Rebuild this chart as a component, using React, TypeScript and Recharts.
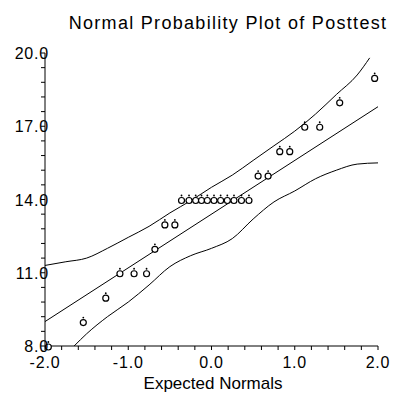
import { ComposedChart, Line, Scatter, XAxis, YAxis } from 'recharts';

// expected normal scores and posttest values
const expectedNormals = [
  -1.96, -1.54, -1.27, -1.1, -0.93, -0.78, -0.68, -0.56, -0.44,
  -0.36, -0.27, -0.19, -0.12, -0.05, 0.03, 0.11, 0.19, 0.27, 0.36, 0.45,
  0.56, 0.68, 0.82, 0.94, 1.12, 1.3, 1.54, 1.96,
];
const posttest = [
  8, 9, 10, 11, 11, 11, 12, 13, 13,
  14, 14, 14, 14, 14, 14, 14, 14, 14, 14, 14,
  15, 15, 16, 16, 17, 17, 18, 19,
];

const fitX = [-2, 2];
const fitY = [9.0, 17.8];

const upperX = [-2, -1.75, -1.5, -1.25, -1, -0.75, -0.5, -0.25, 0, 0.25, 0.5, 0.75, 1, 1.25, 1.5, 1.75, 1.9];
const upperY = [11.3, 11.45, 11.6, 12.0, 12.45, 12.9, 13.45, 13.95, 14.5, 15.0, 15.6, 16.2, 16.8, 17.5, 18.3, 19.1, 19.8];

const lowerX = [-1.65, -1.5, -1.25, -1, -0.75, -0.5, -0.25, 0, 0.25, 0.5, 0.75, 1, 1.25, 1.5, 1.75, 2];
const lowerY = [8.0, 8.5, 9.2, 9.8, 10.5, 11.25, 11.7, 12.0, 12.4, 13.2, 13.9, 14.35, 14.85, 15.2, 15.45, 15.5];

const xTicks = [-2, -1.8, -1.6, -1.4, -1.2, -1, -0.8, -0.6, -0.4, -0.2, 0, 0.2, 0.4, 0.6, 0.8, 1, 1.2, 1.4, 1.6, 1.8, 2];
const yTicks = [8, 8.6, 9.2, 9.8, 10.4, 11, 11.6, 12.2, 12.8, 13.4, 14, 14.6, 15.2, 15.8, 16.4, 17, 17.6, 18.2, 18.8, 19.4, 20];
const xLabels = [-2, -1, 0, 1, 2];
const yLabels = [8, 11, 14, 17, 20];

const points = expectedNormals.map((x, i) => ({ x, y: posttest[i] }));
const fit = fitX.map((x, i) => ({ x, y: fitY[i] }));
const upper = upperX.map((x, i) => ({ x, y: upperY[i] }));
const lower = lowerX.map((x, i) => ({ x, y: lowerY[i] }));

const font = 'Arial, "Liberation Sans", sans-serif';

const isLabel = (list: number[], v: number) => list.some((l) => Math.abs(l - v) < 1e-6);

const XTick = (props: any) => {
  const { x, y, payload } = props;
  if (!isLabel(xLabels, payload.value)) return null;
  return (
    <text x={x} y={y + 16} textAnchor="middle" fontFamily={font} fontSize={16} letterSpacing={0.8} fill="#000">
      {payload.value.toFixed(1)}
    </text>
  );
};

const YTick = (props: any) => {
  const { x, y, payload } = props;
  if (!isLabel(yLabels, payload.value)) return null;
  return (
    <text x={x + 10} y={y + 6} textAnchor="end" fontFamily={font} fontSize={16} letterSpacing={0.8} fill="#000">
      {payload.value.toFixed(1)}
    </text>
  );
};

const Marker = (props: any) => {
  const { cx, cy } = props;
  return (
    <g>
      <circle cx={cx} cy={cy + 1} r={3} fill="#fff" stroke="#000" strokeWidth={1.2} />
      <circle cx={cx} cy={cy - 4} r={0.9} fill="#000" />
    </g>
  );
};

export default function App() {
  return (
    <div style={{ position: 'absolute', left: 0, top: 0, width: 401, height: 393, background: '#fff' }}>
      <ComposedChart width={401} height={393} margin={{ top: 53, right: 23, bottom: 0, left: 0 }}>
        <XAxis
          type="number"
          dataKey="x"
          domain={[-2, 2]}
          ticks={xTicks}
          interval={0}
          height={47}
          axisLine={{ stroke: '#000' }}
          tickLine={{ stroke: '#000' }}
          tickSize={4}
          tick={<XTick />}
        />
        <YAxis
          type="number"
          dataKey="y"
          domain={[8, 20]}
          ticks={yTicks}
          interval={0}
          width={45}
          axisLine={{ stroke: '#000' }}
          tickLine={{ stroke: '#000' }}
          tickSize={4}
          tick={<YTick />}
        />
        <Line data={upper} dataKey="y" type="monotone" stroke="#000" strokeWidth={1} dot={false} isAnimationActive={false} />
        <Line data={lower} dataKey="y" type="monotone" stroke="#000" strokeWidth={1} dot={false} isAnimationActive={false} />
        <Line data={fit} dataKey="y" type="linear" stroke="#000" strokeWidth={1} dot={false} isAnimationActive={false} />
        <Scatter data={points} dataKey="y" shape={<Marker />} isAnimationActive={false} />
      </ComposedChart>
      <svg width={401} height={393} style={{ position: 'absolute', left: 0, top: 0, pointerEvents: 'none' }}>
        <text x={228} y={29} textAnchor="middle" fontFamily={font} fontSize={18} letterSpacing={1.3} fill="#000">
          Normal Probability Plot of Posttest
        </text>
        <text x={213} y={389} textAnchor="middle" fontFamily={font} fontSize={17} fill="#000">
          Expected Normals
        </text>
      </svg>
    </div>
  );
}
